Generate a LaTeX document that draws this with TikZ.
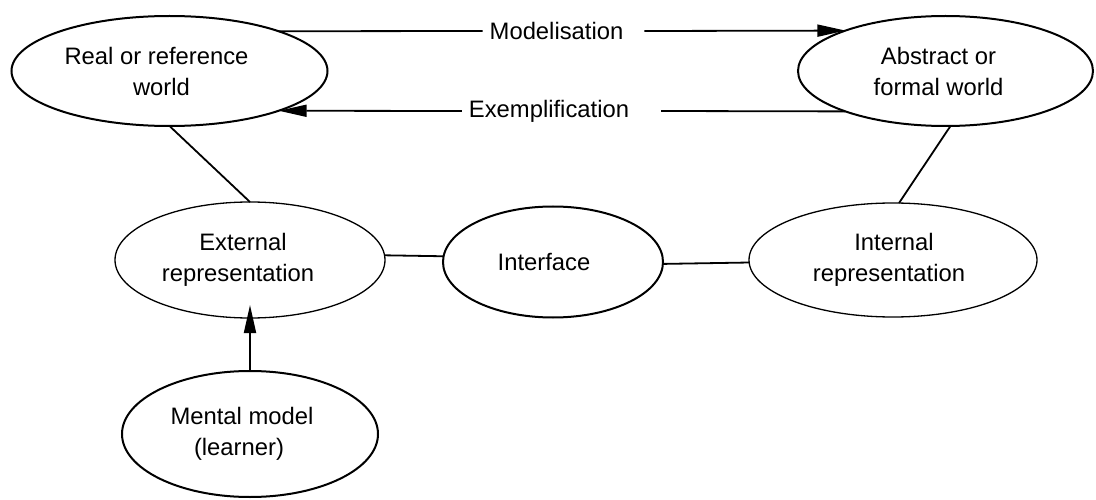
\documentclass[tikz,border=0pt]{standalone}
\usepackage{fontspec}
\setmainfont{Liberation Sans}
\usetikzlibrary{shapes.geometric,arrows.meta}
\newcommand\shft[2]{\hspace*{#1}#2\hspace*{-#1}}
\begin{document}
\begin{tikzpicture}[x=1pt,y=-1pt,
  every node/.style={font=\fontsize{23.8}{31}\selectfont},
  oval/.style={ellipse,draw,line width=2pt,inner sep=0pt,outer sep=0pt,align=center},
  thinoval/.style={oval,line width=1.3pt},
  conn/.style={line width=1.8pt},
  arr/.style={conn,-{Triangle[length=28pt,width=12pt]}},
  lbl/.style={inner sep=0pt,outer sep=0pt}]
\useasboundingbox (0,0) rectangle (1096,500);

\node[oval,minimum width=316pt,minimum height=110pt] (e1) at (169.5,71)
  {\shft{-13pt}{Real or reference}\\\shft{-8pt}{world}};
\node[oval,minimum width=295pt,minimum height=110pt] (e2) at (945.5,71)
  {\shft{-7pt}{Abstract or}\\\shft{-7pt}{formal world}};
\node[thinoval,minimum width=270pt,minimum height=116pt] (e3) at (250,260)
  {\shft{-7pt}{External}\\\shft{-12pt}{representation}};
\node[oval,minimum width=220pt,minimum height=111pt] (e4) at (553,262)
  {\shft{-9pt}{Interface}};
\node[thinoval,minimum width=288pt,minimum height=114pt] (e5) at (893,260)
  {\shft{1pt}{Internal}\\\shft{-4pt}{representation}};
\node[oval,minimum width=256pt,minimum height=126pt] (e6) at (250,434)
  {\shft{-8pt}{Mental model}\\\shft{-11pt}{(learner)}};

\node[lbl] (mod) at (556.5,31) {Modelisation};
\node[lbl] (exm) at (549,111) {Exemplification};

\draw[conn] (e1.20.3) -- ([xshift=-7pt]mod.west);
\draw[arr] ([xshift=21pt]mod.east) -- (e2.158);
\draw[conn] (e2.202) -- ([xshift=32pt]exm.east);
\draw[arr] ([xshift=-7pt]exm.west) -- (e1.-20);

\draw[conn] (e1.south) -- (e3.north);
\draw[conn] ([xshift=5pt]e2.south) -- ([xshift=6pt]e5.north);
\draw[conn] (e3.2) -- (e4.177);
\draw[conn] (e4.-1) -- (e5.181.5);
\draw[arr] (e6.north) -- ([yshift=13pt]e3.south);
\end{tikzpicture}
\end{document}
